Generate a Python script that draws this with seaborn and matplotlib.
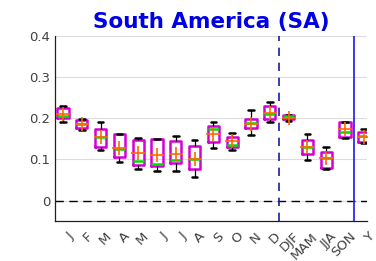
import matplotlib
import matplotlib.pyplot as plt
import matplotlib.transforms as mtransforms
import pandas as pd
import seaborn as sns

matplotlib.use("Agg")

# period keys (unique) and the labels shown under the ticks
periods = ["Jan", "Feb", "Mar", "Apr", "May", "Jun", "Jul", "Aug", "Sep", "Oct",
           "Nov", "Dec", "DJF", "MAM", "JJA", "SON", "Year"]
tick_labels = ["J", "F", "M", "A", "M", "J", "J", "A", "S", "O", "N", "D",
               "DJF", "MAM", "JJA", "SON", "Y"]

# box statistics
whisker_low = [0.192, 0.172, 0.123, 0.094, 0.077, 0.072, 0.072, 0.056, 0.127, 0.122,
               0.159, 0.190, 0.194, 0.098, 0.076, 0.152, 0.139]
quartile_1 = [0.201, 0.177, 0.131, 0.105, 0.087, 0.085, 0.090, 0.076, 0.142, 0.131,
              0.176, 0.199, 0.199, 0.112, 0.080, 0.154, 0.143]
medians = [0.206, 0.186, 0.155, 0.126, 0.096, 0.088, 0.098, 0.102, 0.173, 0.134,
           0.189, 0.211, 0.205, 0.130, 0.103, 0.166, 0.156]
quartile_3 = [0.225, 0.195, 0.175, 0.161, 0.147, 0.150, 0.144, 0.132, 0.182, 0.155,
              0.199, 0.231, 0.207, 0.148, 0.119, 0.191, 0.167]
whisker_high = [0.229, 0.197, 0.191, 0.161, 0.152, 0.150, 0.158, 0.147, 0.190, 0.164,
                0.219, 0.240, 0.209, 0.162, 0.130, 0.192, 0.173]
means = [0.211, 0.185, 0.155, 0.127, 0.116, 0.111, 0.114, 0.102, 0.162, 0.144,
         0.187, 0.213, 0.201, 0.130, 0.104, 0.174, 0.155]

MAGENTA = "#d400d4"
GREEN = "#00dd00"
ORANGE = "#ff6a00"
TEXT = "#404040"


def build_frame() -> pd.DataFrame:
    rows = []
    for i, key in enumerate(periods):
        for v in (whisker_low[i], quartile_1[i], medians[i], quartile_3[i], whisker_high[i]):
            rows.append({"period": key, "value": v})
    return pd.DataFrame(rows)


def main() -> None:
    sns.set_style("whitegrid", rc={"grid.color": "#dcdcdc", "grid.linewidth": 0.8,
                                   "axes.edgecolor": "#202020"})
    plt.rcParams["font.family"] = ["DejaVu Sans"]

    df = build_frame()

    fig = plt.figure(figsize=(3.76, 2.61), dpi=100, facecolor="white")
    ax = fig.add_axes([0.146, 0.153, 0.830, 0.709])

    ax.axhline(0, color="black", lw=1.0, ls=(0, (6, 4)), zorder=1)

    sns.boxplot(
        data=df, x="period", y="value", order=periods, ax=ax,
        width=0.6, whis=(0, 100), showfliers=False, fill=False,
        color=MAGENTA, linewidth=1.6,
        boxprops={"color": MAGENTA, "linewidth": 1.8},
        medianprops={"color": GREEN, "linewidth": 1.8},
        whiskerprops={"color": "black", "linewidth": 0.9},
        capprops={"color": "black", "linewidth": 1.8},
    )

    sns.pointplot(
        x=periods, y=means, order=periods, ax=ax, linestyle="none",
        markers="+", color=ORANGE, markersize=10, markeredgewidth=1.2,
        errorbar=None,
    )
    for coll in ax.collections + ax.lines[-1:]:
        coll.set_zorder(5)

    ax.axvline(11.5, color="#1a1aa0", lw=1.2, ls=(0, (5, 4)), zorder=4)
    ax.axvline(15.5, color="#1a1aee", lw=1.2, zorder=4)

    ax.set_xlim(-0.43, 16.17)
    ax.set_ylim(-0.05, 0.4)
    ax.set_yticks([0, 0.1, 0.2, 0.3, 0.4])
    ax.set_yticklabels(["0", "0.1", "0.2", "0.3", "0.4"])
    ax.set_xticks(range(len(periods)))
    ax.set_xticklabels(tick_labels, rotation=45, ha="right", rotation_mode="anchor")
    ax.set_xlabel("")
    ax.set_ylabel("")
    ax.tick_params(axis="both", labelsize=9.5, colors=TEXT, length=3, direction="in")
    ax.tick_params(axis="both", color="#202020")

    # nudge the rotated month labels right and down, as in the reference
    shift = mtransforms.ScaledTranslation(0.04, -0.04, fig.dpi_scale_trans)
    for label in ax.get_xticklabels():
        label.set_transform(label.get_transform() + shift)

    for side in ("top", "right"):
        ax.spines[side].set_visible(False)
    for side in ("left", "bottom"):
        ax.spines[side].set_linewidth(0.9)

    ax.set_title("South America (SA)", fontsize=15.5, fontweight="bold", color="#0000e6", pad=6)

    fig.savefig("out.png", dpi=100)
    plt.close(fig)


if __name__ == "__main__":
    main()
